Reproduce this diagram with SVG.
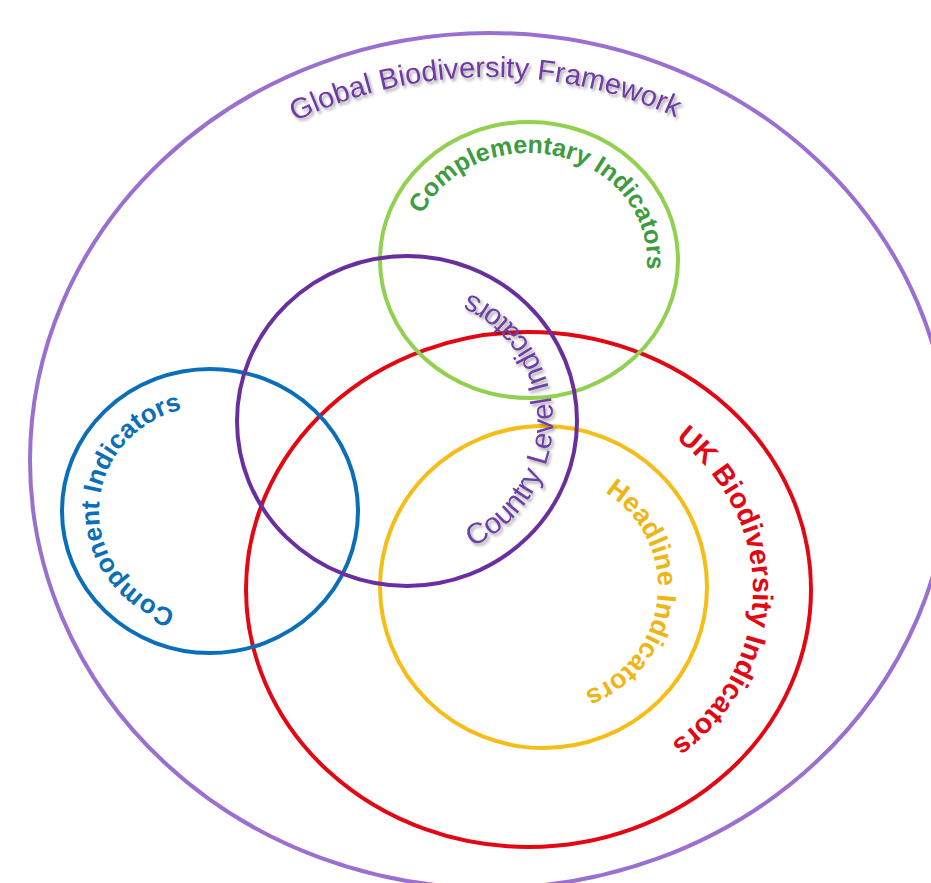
<svg xmlns="http://www.w3.org/2000/svg" width="931" height="883" viewBox="0 0 931 883">
<style>
.ring{fill:none;stroke-width:4}
.lbl{font-family:"Liberation Sans",Arial,sans-serif;}
.b{font-weight:bold}
</style>
<defs>
<filter id="sh" x="-10%" y="-10%" width="120%" height="130%">
<feDropShadow dx="2" dy="2.5" stdDeviation="1.5" flood-color="#000" flood-opacity="0.35"/>
</filter>
<path id="pGlobal" d="M74,460.5 A416,383.5 0 1,1 906,460.5 A416,383.5 0 1,1 74,460.5"/>
<path id="pComp" d="M411,260 A118,107 0 1,1 647,260 A118,107 0 1,1 411,260"/>
<path id="pCountry" d="M407,562 A146,141 0 1,0 407,280 A146,141 0 1,0 407,562"/>
<path id="pComponent" d="M210,616 A111,105 0 1,1 210,406 A111,105 0 1,1 210,616"/>
<path id="pUK" d="M304,589.5 A224.5,199.5 0 1,1 753,589.5 A224.5,199.5 0 1,1 304,589.5"/>
<path id="pHead" d="M429,587 A114.5,112 0 1,1 658,587 A114.5,112 0 1,1 429,587"/>
</defs>
<rect width="931" height="883" fill="#fff"/>
<g id="global">
<ellipse class="ring" cx="490" cy="460.5" rx="460" ry="427.5" stroke="#9b6fcf" stroke-width="3.5"/>
<text class="lbl" font-size="29" fill="#6f3aa3" filter="url(#sh)"><textPath href="#pGlobal" startOffset="24.8%" text-anchor="middle">Global Biodiversity Framework</textPath></text>
</g>
<g id="uk">
<ellipse class="ring" cx="528.5" cy="589.5" rx="282.5" ry="257.5" stroke="#e30613"/>
<text class="lbl b" font-size="28.5" fill="#e30613"><textPath href="#pUK" startOffset="50.2%" text-anchor="middle">UK Biodiversity Indicators</textPath></text>
</g>
<g id="headline">
<ellipse class="ring" cx="543.5" cy="587" rx="163.5" ry="161" stroke="#f5bd16"/>
<text class="lbl b" font-size="27" fill="#efb514"><textPath href="#pHead" startOffset="51.6%" text-anchor="middle">Headline Indicators</textPath></text>
</g>
<g id="complementary">
<ellipse class="ring" cx="529" cy="260" rx="149" ry="138" stroke="#92d050"/>
<text class="lbl b" font-size="25" fill="#3d9b40"><textPath href="#pComp" startOffset="29%" text-anchor="middle">Complementary Indicators</textPath></text>
</g>
<g id="component">
<ellipse class="ring" cx="210" cy="511" rx="148" ry="142" stroke="#0a6fb8"/>
<text class="lbl b" font-size="26" fill="#0a6fb8"><textPath href="#pComponent" startOffset="25.5%" text-anchor="middle">Component Indicators</textPath></text>
</g>
<g id="country">
<ellipse class="ring" cx="407" cy="421" rx="170" ry="165" stroke="#6a2f9e"/>
<text class="lbl" font-size="29.5" fill="#6e3fa6" filter="url(#sh)"><textPath href="#pCountry" startOffset="25.2%" text-anchor="middle">Country Level Indicators</textPath></text>
</g>
<g id="connectors"/>
</svg>
